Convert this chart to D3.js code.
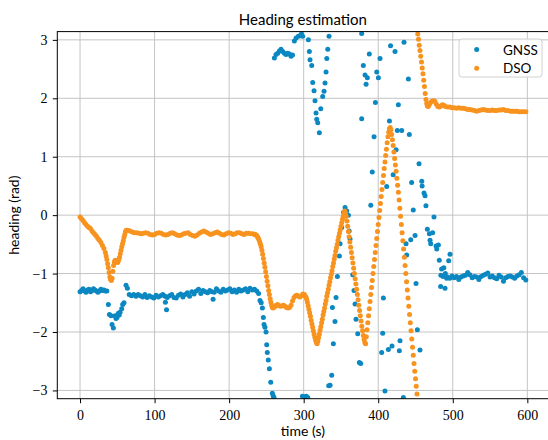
<!DOCTYPE html>
<html><head><meta charset="utf-8">
<script src="https://cdn.jsdelivr.net/npm/d3@7"></script>
<style>
html,body{margin:0;padding:0;background:#fff;}
svg{display:block;}
.tick text{font-family:"Liberation Serif","DejaVu Serif",serif !important;font-size:14px;fill:#000;}
</style></head><body>
<script>
const xTicks=[0,100,200,300,400,500,600];
const xTickLabels=["0","100","200","300","400","500","600"];
const yTicks=[-3,-2,-1,0,1,2,3];
const yTickLabels=["\u22123","\u22122","\u22121","0","1","2","3"];
const seriesNames=["GNSS","DSO"];

const gnssTime=[
0,2,4,6,8,10,12,14,16,18,20,22,24,26,28,30,32,34,36,
38,39.4,41.6,42.9,44.7,46.9,48.2,49.6,51.4,52.6,53.7,55.9,57.2,59,61.7,63.5,
66,69,72,75,78,81,84,87,90,93,96,99,102,105,108,111,114,117,120,123,126,129,132,135,138,141,144,147,150,153,156,159,162,165,168,171,174,177,180,183,186,189,192,195,198,201,204,207,210,213,216,219,222,225,228,231,234,237,
114.5,116,178.5,
239.5,241.4,243,244.6,245.9,246.8,248,249.5,250.4,251.2,252.5,254,255.8,258,259,260.2,
260.7,262.9,265.2,267.4,269.6,271.9,274.1,276.3,278.6,280.8,283,285,287.5,289.8,292.9,295.1,297,298.7,
298.3,301.7,303.5,305.4,
306.3,307.6,308.5,310.8,312.1,313.9,315.2,316.6,317.5,318.8,321,322.9,325.5,327.3,328.6,330,331,332.3,334,
333.6,335.4,337.6,339.8,338.5,342,343.4,345.2,347.9,348.8,351,353.5,355.5,357.7,360,361,362.2,365.8,367.5,368.9,370.2,372.5,374.7,376.5,
377.8,377.8,380,382.3,383.7,385.4,388,390,392,394.4,396.2,398,400.2,402.4,404.6,406,406.9,409,411.4,413.6,415,416.5,418.5,420,422.5,424,425.6,427,428.3,429.2,431.5,433.7,434.6,437.3,438.2,440.4,441.7,443.6,444.8,447,449.4,450.7,452.5,454.7,456,458.4,458.9,461.4,462.8,464,465.9,468.6,469.5,470.4,473,474.8,477.6,478.5,480.7,481.9,483.7,485,488,489.6,491.8,494.5,496.3,
484,487,490,493,496,499,502,505,508,511,514,517,520,523,526,529,532,535,538,541,544,547,550,553,556,559,562,565,568,571,574,577,580,583,586,589,592,595,598
];
const gnssHeading=[
-1.31,-1.29,-1.26,-1.30,-1.32,-1.28,-1.27,-1.31,-1.29,-1.26,-1.28,-1.30,-1.32,-1.30,-1.27,-1.29,-1.28,-1.30,-1.30,
-1.53,-1.70,-1.72,-1.87,-1.93,-1.72,-1.77,-1.75,-1.68,-1.71,-1.66,-1.60,-1.53,-1.50,-1.20,-1.25,
-1.36,-1.38,-1.36,-1.39,-1.36,-1.38,-1.40,-1.36,-1.41,-1.38,-1.40,-1.42,-1.37,-1.40,-1.38,-1.36,-1.39,-1.41,-1.38,-1.36,-1.41,-1.42,-1.37,-1.35,-1.40,-1.36,-1.33,-1.39,-1.31,-1.35,-1.30,-1.27,-1.34,-1.29,-1.31,-1.33,-1.29,-1.31,-1.32,-1.26,-1.30,-1.32,-1.27,-1.30,-1.28,-1.26,-1.31,-1.28,-1.32,-1.27,-1.30,-1.28,-1.26,-1.31,-1.25,-1.28,-1.27,-1.30,
-1.49,-1.62,-1.44,
-1.34,-1.46,-1.50,-1.59,-1.75,-1.87,-1.92,-2.00,-2.22,-2.35,-2.48,-2.63,-2.86,-3.05,-3.09,-3.12,
2.69,2.75,2.77,2.81,2.84,2.80,2.77,2.75,2.77,2.76,2.72,2.74,2.98,3.03,3.06,3.07,3.10,3.06,
-3.10,-3.11,-3.10,-3.12,
3.00,2.80,2.66,2.56,2.27,2.13,1.96,1.75,1.64,1.58,1.41,1.82,2.03,2.12,2.26,2.45,2.68,2.84,3.06,
-2.92,-2.91,-2.74,-2.20,-1.58,-1.82,-1.41,-1.05,-0.70,-0.49,-0.21,0.05,0.13,0.07,0.00,-0.27,-0.41,-1.02,-1.29,-1.52,-1.78,-2.03,-2.52,-2.54,
3.11,1.65,2.56,2.40,2.24,2.35,2.76,0.17,0.74,1.34,1.93,2.45,2.35,2.68,-2.35,-2.02,-1.42,-3.01,0.49,-2.30,1.61,2.90,-2.24,0.69,2.80,1.12,1.45,1.89,-2.32,-2.15,1.45,-3.12,2.96,-0.49,-0.68,2.33,1.38,-0.42,0.56,0.09,-0.35,-1.17,-1.96,0.88,-2.31,0.58,0.50,0.38,0.33,0.16,-0.24,-0.32,-0.43,-0.49,-0.30,-0.03,-0.53,-0.58,-0.51,-0.77,-1.22,-0.92,-0.90,-1.25,-1.08,-0.78,-0.67,
-1.03,-1.05,-1.00,-1.06,-1.08,-1.04,-1.07,-1.05,-1.10,-1.06,-1.04,-1.03,-0.98,-1.02,-1.07,-1.05,-1.06,-1.10,-1.05,-1.03,-1.01,-0.99,-1.06,-1.04,-1.07,-1.09,-1.03,-1.06,-1.13,-1.07,-1.05,-1.04,-1.06,-1.08,-1.04,-1.02,-0.98,-1.07,-1.11
];

const dsoTime=[
0,2,4,6,8,10,12,14,16,18,20,22,24,26,28,30,32,34,35,36,37,38,39,40,41,42,43,44,45,46,47,48,49,50,51,52,53,54,55,56,57,58,59,60,61,62,
64,67,70,73,76,79,82,85,88,91,94,97,100,103,106,109,112,115,118,121,124,127,130,133,136,139,142,145,148,151,154,157,160,163,166,169,172,175,178,181,184,187,190,193,196,199,202,205,208,211,214,217,220,223,226,229,232,
234,235,236,237,238,239,240,241,242,243,244,245,246,247,248,249,250,251,252,253,254,255,256,257,258,259,
261,263,265,267,269,271,273,275,277,279,281,283,285,287,289,291,293,295,297,299,301,303,
304,305,306,307,308,309,310,311,312,313,314,315,316,317,318,
319,320,321,322,323,324,325,326,327,328,329,330,331,332,333,334,335,336,337,338,339,340,341,342,343,344,345,346,347,348,349,350,351,352,353,354,355,
356,357,358,359,360,361,362,363,364,365,366,367,368,369,370,371,372,373,374,375,376,377,378,379,380,381,382,383,
384,385,386,387,388,389,390,391,392,393,394,395,396,397,398,399,400,401,402,403,404,405,406,407,408,409,410,411,412,413,414,415,416,417,
418,419,420,421,422,423,424,425,426,427,428,429,430,431,432,433,434,435,436,437,438,439,440,441,442,443,444,445,446,447,448,449,450,451,452,
453,454,455,456,457,458,459,460,461,462,463,464,465,466,467,468,469,470,472,474,476,478,480,482,484,486,488,490,
493,496,499,502,505,508,511,514,517,520,523,526,529,532,535,538,541,544,547,550,553,556,559,562,565,568,571,574,577,580,583,586,589,592,595,598
];
const dsoHeading=[
-0.03,-0.06,-0.09,-0.13,-0.16,-0.19,-0.21,-0.23,-0.27,-0.30,-0.33,-0.36,-0.40,-0.43,-0.47,-0.52,-0.57,-0.64,-0.70,-0.76,-0.83,-0.90,-0.98,-1.06,-1.10,-1.12,-1.08,-0.96,-0.86,-0.80,-0.77,-0.78,-0.80,-0.81,-0.80,-0.76,-0.72,-0.66,-0.60,-0.54,-0.49,-0.44,-0.38,-0.33,-0.28,-0.26,
-0.26,-0.27,-0.29,-0.30,-0.30,-0.31,-0.32,-0.31,-0.30,-0.31,-0.33,-0.34,-0.33,-0.31,-0.30,-0.31,-0.33,-0.34,-0.33,-0.31,-0.30,-0.32,-0.34,-0.35,-0.34,-0.32,-0.31,-0.30,-0.33,-0.35,-0.36,-0.34,-0.31,-0.29,-0.27,-0.29,-0.31,-0.33,-0.32,-0.30,-0.29,-0.31,-0.33,-0.34,-0.32,-0.30,-0.31,-0.33,-0.32,-0.30,-0.30,-0.32,-0.33,-0.31,-0.31,-0.32,-0.32,
-0.33,-0.33,-0.34,-0.35,-0.37,-0.39,-0.42,-0.46,-0.50,-0.54,-0.60,-0.67,-0.74,-0.82,-0.89,-0.97,-1.05,-1.13,-1.21,-1.29,-1.36,-1.43,-1.49,-1.54,-1.58,-1.59,
-1.57,-1.54,-1.53,-1.55,-1.56,-1.55,-1.54,-1.56,-1.58,-1.59,-1.58,-1.54,-1.47,-1.41,-1.38,-1.37,-1.39,-1.40,-1.38,-1.35,-1.36,-1.40,
-1.44,-1.49,-1.55,-1.61,-1.67,-1.73,-1.80,-1.86,-1.92,-1.98,-2.04,-2.09,-2.14,-2.18,-2.20,
-2.16,-2.10,-2.04,-1.97,-1.91,-1.84,-1.78,-1.71,-1.65,-1.59,-1.52,-1.46,-1.39,-1.33,-1.27,-1.20,-1.14,-1.07,-1.01,-0.95,-0.88,-0.82,-0.75,-0.69,-0.62,-0.56,-0.50,-0.43,-0.37,-0.31,-0.25,-0.19,-0.13,-0.07,-0.02,0.04,0.07,
0.04,-0.02,-0.10,-0.19,-0.28,-0.37,-0.46,-0.55,-0.64,-0.73,-0.82,-0.91,-1.00,-1.09,-1.18,-1.27,-1.36,-1.45,-1.54,-1.63,-1.72,-1.81,-1.90,-1.98,-2.06,-2.13,-2.18,-2.20,
-2.08,-1.96,-1.84,-1.72,-1.60,-1.48,-1.36,-1.24,-1.12,-1.00,-0.88,-0.76,-0.64,-0.52,-0.40,-0.28,-0.16,-0.04,0.08,0.20,0.32,0.44,0.56,0.68,0.80,0.91,1.02,1.13,1.24,1.34,1.42,1.48,1.50,1.46,
1.38,1.29,1.19,1.08,0.97,0.86,0.75,0.63,0.51,0.39,0.26,0.12,-0.02,-0.16,-0.30,-0.44,-0.58,-0.72,-0.86,-1.00,-1.14,-1.28,-1.42,-1.56,-1.70,-1.84,-1.98,-2.12,-2.26,-2.40,-2.54,-2.67,-2.80,-2.93,-3.06,
3.10,3.01,2.91,2.82,2.72,2.62,2.52,2.42,2.31,2.20,2.08,1.98,1.91,1.87,1.86,1.88,1.91,1.93,1.95,1.96,1.95,1.90,1.86,1.85,1.87,1.89,1.88,1.86,
1.85,1.85,1.84,1.84,1.83,1.84,1.83,1.83,1.82,1.81,1.81,1.80,1.79,1.78,1.79,1.80,1.81,1.80,1.79,1.79,1.80,1.79,1.79,1.80,1.80,1.81,1.79,1.79,1.78,1.78,1.78,1.78,1.77,1.77,1.77,1.77
];

const colors=["#0b87c1","#f7931e"];
const W=548,H=440;
const L=57.3,R=548.5,T=31.6,B=398.7;
const x=d3.scaleLinear().domain([-30.5,628.4]).range([L,R]);
const y=d3.scaleLinear().domain([-Math.PI,Math.PI]).range([B,T]);

const svg=d3.select("body").append("svg").attr("width",W).attr("height",H);
const sans="Lato, 'Open Sans', sans-serif";

// grid
const grid=svg.append("g").attr("stroke","#c4c4c4").attr("stroke-width",1);
grid.selectAll(".gx").data(xTicks).join("line").attr("x1",d=>x(d)).attr("x2",d=>x(d)).attr("y1",T).attr("y2",B);
grid.selectAll(".gy").data(yTicks).join("line").attr("y1",d=>y(d)).attr("y2",d=>y(d)).attr("x1",L).attr("x2",R);

svg.append("clipPath").attr("id","plotclip").append("rect").attr("x",L).attr("y",T).attr("width",R-L).attr("height",B-T);
const plot=svg.append("g").attr("clip-path","url(#plotclip)");

plot.append("g").selectAll("circle").data(gnssTime.map((t,i)=>[t,gnssHeading[i]])).join("circle")
  .attr("cx",d=>x(d[0])).attr("cy",d=>y(d[1])).attr("r",2.5).attr("fill",colors[0]);
plot.append("g").selectAll("circle").data(dsoTime.map((t,i)=>[t,dsoHeading[i]])).join("circle")
  .attr("cx",d=>x(d[0])).attr("cy",d=>y(d[1])).attr("r",2.5).attr("fill",colors[1]);

// axes
const xAxis=d3.axisBottom(x).tickValues(xTicks).tickSize(4.5).tickPadding(6.5).tickFormat((d,i)=>xTickLabels[i]);
const gx=svg.append("g").attr("transform",`translate(0,${B})`).call(xAxis);
gx.attr("font-family",null).attr("font-size",null);
gx.select(".domain").remove();
gx.selectAll("line").attr("stroke","#000");

const yAxis=d3.axisLeft(y).tickValues(yTicks).tickSize(4.5).tickPadding(5.3).tickFormat((d,i)=>yTickLabels[i]);
const gy=svg.append("g").attr("transform",`translate(${L},0)`).call(yAxis);
gy.attr("font-family",null).attr("font-size",null);
gy.select(".domain").remove();
gy.selectAll("line").attr("stroke","#000");

// spines
svg.append("rect").attr("x",L).attr("y",T).attr("width",R-L).attr("height",B-T)
  .attr("fill","none").attr("stroke","#000").attr("stroke-width",1);

// title and labels
svg.append("text").attr("x",(L+R)/2).attr("y",25).attr("text-anchor","middle")
  .attr("font-family",sans).attr("font-size",15).attr("fill","#000").text("Heading estimation");
svg.append("text").attr("x",(L+R)/2).attr("y",436).attr("text-anchor","middle")
  .attr("font-family",sans).attr("font-size",14).attr("fill","#000").text("time (s)");
svg.append("text").attr("transform",`translate(18.5,${y(0)}) rotate(-90)`).attr("text-anchor","middle")
  .attr("font-family",sans).attr("font-size",14).attr("fill","#000").text("heading (rad)");

// legend
const lg=svg.append("g");
lg.append("rect").attr("x",459).attr("y",39).attr("width",83).attr("height",38).attr("rx",3)
  .attr("fill","#fff").attr("fill-opacity",0.8).attr("stroke","#d0d0d0").attr("stroke-width",1);
seriesNames.forEach((n,i)=>{
  lg.append("circle").attr("cx",476.7).attr("cy",49.5+i*18.8).attr("r",2.5).attr("fill",colors[i]);
  lg.append("text").attr("x",503).attr("y",54.5+i*18.8).attr("font-family",sans).attr("font-size",13.5).attr("fill","#000").text(n);
});
</script>
</body></html>
